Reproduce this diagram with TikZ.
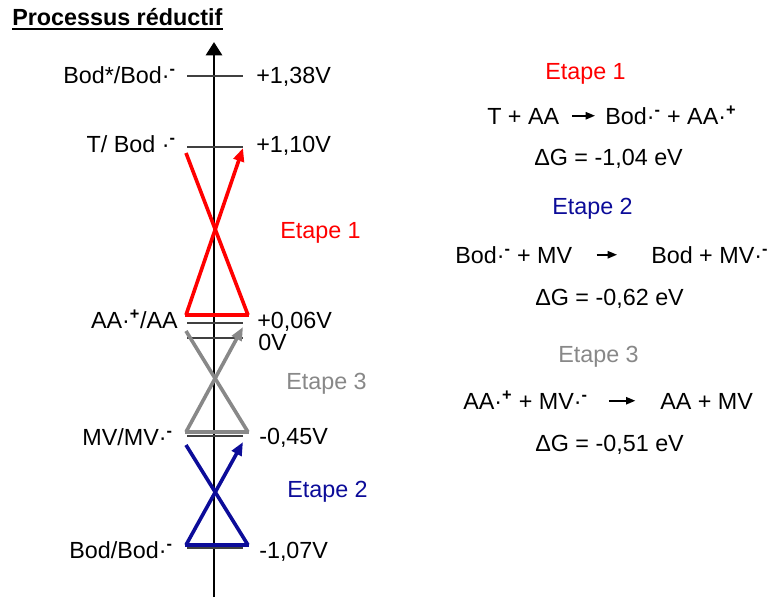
\documentclass[tikz,border=0pt]{standalone}
\usepackage{fontspec}
\setmainfont{Liberation Sans}
\usetikzlibrary{arrows.meta, positioning}
\definecolor{etapeone}{HTML}{FF0000}
\definecolor{etapetwo}{HTML}{0C0C99}
\definecolor{etapethree}{HTML}{888888}
\definecolor{levelgray}{HTML}{404040}
\newcommand{\radneg}{·\textsuperscript{\textbf{-}}}
\newcommand{\radpos}{·\textsuperscript{\textbf{+}}}

\begin{document}
\begin{tikzpicture}[x=0.75pt, y=-0.75pt,
    txt/.style={font=\fontsize{17.5}{21}\selectfont, inner sep=0pt},
    eq/.style={txt, text height=12.4pt, text depth=0pt, anchor=base west},
    level/.style={draw=levelgray, line width=1.1pt},
    trans/.style={draw=#1, line width=2.7pt},
    transarrow/.style={trans=#1, -{Triangle[length=10pt,width=8pt]}},
    rxn/.style={-{Triangle[length=7pt,width=5.5pt]}, line width=1.2pt}
]
\useasboundingbox (0,0) rectangle (768,597);

\node[txt, font=\fontsize{17.5}{21}\selectfont\bfseries, anchor=base west] (title) at (12,25) {Processus réductif};
\draw[line width=1.5pt] ([yshift=-3.2pt]title.base west) -- ([yshift=-3.2pt]title.base east);

\coordinate (axbot) at (214,597);
\coordinate (axtop) at (214,42);
\draw[line width=2.2pt, -{Triangle[length=10pt,width=12pt]}] (axbot) -- (axtop);

\foreach \y in {76,147,323,338,436,548}
    \draw[level] (187,\y) -- (243,\y);

\draw[trans=etapeone] (186,153) -- (248,315);
\draw[trans=etapeone] (185,315) -- (249,315);
\draw[transarrow=etapeone] (186,315) -- (243,148);

\draw[trans=etapethree] (186,331) -- (248,432);
\draw[trans=etapethree] (185,432) -- (249,432);
\draw[transarrow=etapethree] (186,432) -- (243,327);

\draw[trans=etapetwo] (186,445) -- (248,545);
\draw[trans=etapetwo] (185,545) -- (249,545);
\draw[transarrow=etapetwo] (186,545) -- (243,442);

\node[txt, anchor=base east] (bodstar) at (176,83) {Bod*/Bod\radneg};
\node[txt, anchor=base east] (tbod) at (176,152) {T/ Bod \radneg};
\node[txt, anchor=base east] (aa) at (178,328) {AA\radpos/AA};
\node[txt, anchor=base east] (mv) at (173,445) {MV/MV\radneg};
\node[txt, anchor=base east] (bod) at (173,558) {Bod/Bod\radneg};

\node[txt, anchor=base west] (vbodstar) at (256,83) {+1,38V};
\node[txt, anchor=base west] (vtbod) at (256,152) {+1,10V};
\node[txt, anchor=base west] (vaa) at (257,328) {+0,06V};
\node[txt, anchor=base west] (vzero) at (258,350) {0V};
\node[txt, anchor=base west] (vmv) at (259,444) {-0,45V};
\node[txt, anchor=base west] (vbod) at (259,558) {-1,07V};

\node[txt, anchor=base west, text=etapeone] (etape1) at (280,238) {Etape 1};
\node[txt, anchor=base west, text=etapethree] (etape3) at (286,389) {Etape 3};
\node[txt, anchor=base west, text=etapetwo] (etape2) at (287,497) {Etape 2};

\node[txt, anchor=base west, text=etapeone] (titre1) at (545,79) {Etape 1};
\node[eq] (r1l) at (487,124) {T + AA};
\node[eq] (r1r) at (605,124) {Bod\radneg{} + AA\radpos};
\draw[rxn, shorten <=9.5pt, shorten >=7.5pt] (r1l) -- (r1r);
\node[txt, anchor=base west] (dg1) at (534,165) {ΔG = -1,04 eV};

\node[txt, anchor=base west, text=etapetwo] (titre2) at (552,214) {Etape 2};
\node[eq] (r2l) at (455,263) {Bod\radneg{} + MV};
\node[eq] (r2r) at (651,263) {Bod + MV\radneg};
\draw[rxn, shorten <=18pt, shorten >=25.5pt] (r2l) -- (r2r);
\node[txt, anchor=base west] (dg2) at (535,305) {ΔG = -0,62 eV};

\node[txt, anchor=base west, text=etapethree] (titre3) at (558,362) {Etape 3};
\node[eq] (r3l) at (463,409) {AA\radpos{} + MV\radneg};
\node[eq] (r3r) at (660,409) {AA + MV};
\draw[rxn, shorten <=15.5pt, shorten >=18.5pt] (r3l) -- (r3r);
\node[txt, anchor=base west] (dg3) at (535,451) {ΔG = -0,51 eV};
\end{tikzpicture}
\end{document}
